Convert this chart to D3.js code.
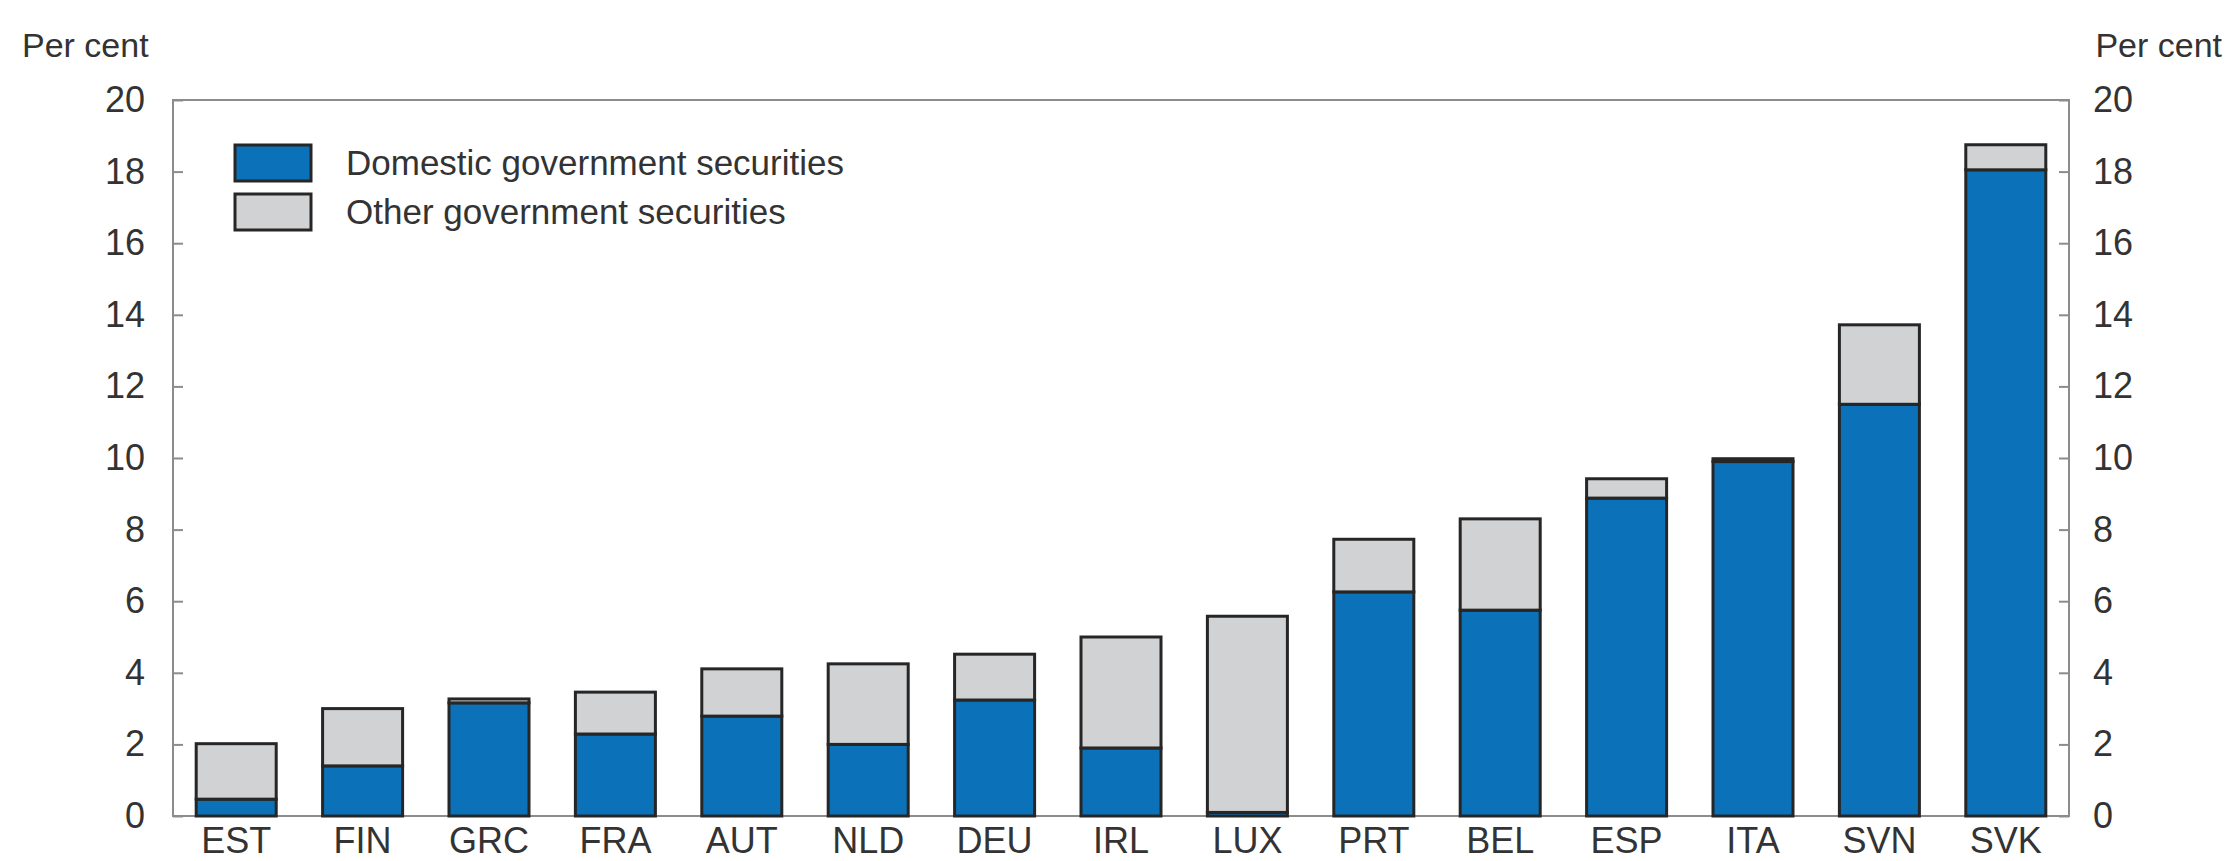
<!DOCTYPE html>
<html>
<head>
<meta charset="utf-8">
<script src="https://cdn.jsdelivr.net/npm/d3@7"></script>
<style>
  body { margin: 0; background: #fff; }
  text { font-family: "Liberation Sans", Arial, sans-serif; fill: #333; }
</style>
</head>
<body>
<div id="chart"></div>
<script>
// country codes along the x axis
var categories = ["EST", "FIN", "GRC", "FRA", "AUT", "NLD", "DEU", "IRL", "LUX", "PRT", "BEL", "ESP", "ITA", "SVN", "SVK"];
// per cent
var domestic = [0.47, 1.4, 3.16, 2.29, 2.79, 2.0, 3.24, 1.9, 0.1, 6.26, 5.75, 8.88, 9.9, 11.5, 18.05];
var other    = [1.55, 1.6, 0.11, 1.17, 1.32, 2.25, 1.28, 3.1, 5.48, 1.47, 2.55, 0.54, 0.08, 2.22, 0.7];
var seriesNames = ["Domestic government securities", "Other government securities"];
var yTicks = [0, 2, 4, 6, 8, 10, 12, 14, 16, 18, 20];

var width = 2228, height = 861;
// plot box (window.top is read only, so no "top" here)
var plotL = 173, plotR = 2069, plotT = 100, plotB = 816;

var blue = "#0b72b9", grey = "#d1d2d4", edge = "#262626";

var table = categories.map(function(c, i) {
    return {cat: c, dom: domestic[i], oth: other[i]};
});

var svg = d3.select("#chart").append("svg")
    .attr("width", width)
    .attr("height", height);

var x = d3.scaleBand()
    .domain(categories)
    .range([plotL, plotR])
    .paddingInner(0.367)
    .paddingOuter(0.1835);

var y = d3.scaleLinear()
    .domain([0, 20])
    .range([plotB, plotT]);

// frame
svg.append("rect")
    .attr("x", plotL)
    .attr("y", y(20))
    .attr("width", plotR - plotL)
    .attr("height", y(0) - y(20))
    .attr("fill", "none")
    .attr("stroke", "#8c8c8c")
    .attr("stroke-width", 2);

// left and right axes, ticks pointing inward
var yl = svg.append("g")
    .attr("transform", "translate(" + plotL + ",0)")
    .call(d3.axisLeft(y).tickValues(yTicks).tickSize(-10).tickPadding(28));
var yr = svg.append("g")
    .attr("transform", "translate(" + plotR + ",0)")
    .call(d3.axisRight(y).tickValues(yTicks).tickSize(-10).tickPadding(24));

[yl, yr].forEach(function(g) {
    g.select(".domain").remove();
    g.selectAll(".tick line").attr("stroke", "#8c8c8c").attr("stroke-width", 2);
    g.selectAll(".tick text")
        .attr("font-family", "Liberation Sans, Arial, sans-serif")
        .attr("font-size", 36)
        .attr("fill", "#333");
});

var stack = d3.stack().keys(["dom", "oth"]);
var layers = stack(table);
var colors = [blue, grey];

svg.append("g").selectAll("g")
    .data(layers)
    .join("g")
    .attr("fill", function(d, i) { return colors[i]; })
    .selectAll("rect")
    .data(function(d) { return d; })
    .join("rect")
    .attr("x", function(d) { return x(d.data.cat); })
    .attr("y", function(d) { return y(d[1]); })
    .attr("width", x.bandwidth())
    .attr("height", function(d) { return y(d[0]) - y(d[1]); })
    .attr("stroke", edge)
    .attr("stroke-width", 3);

// category labels
var xa = svg.append("g")
    .attr("transform", "translate(0," + plotB + ")")
    .call(d3.axisBottom(x).tickSize(0).tickPadding(11));
xa.select(".domain").remove();
xa.selectAll(".tick text")
    .attr("font-family", "Liberation Sans, Arial, sans-serif")
    .attr("font-size", 36)
    .attr("fill", "#333");

// unit labels
svg.append("text")
    .attr("x", 22)
    .attr("y", 57)
    .attr("font-size", 34)
    .text("Per cent");
svg.append("text")
    .attr("x", 2222)
    .attr("y", 57)
    .attr("text-anchor", "end")
    .attr("font-size", 34)
    .text("Per cent");

// legend
var legend = svg.append("g");
seriesNames.forEach(function(name, i) {
    legend.append("rect")
        .attr("x", 235)
        .attr("y", 145 + i * 49)
        .attr("width", 76)
        .attr("height", 36)
        .attr("fill", colors[i])
        .attr("stroke", edge)
        .attr("stroke-width", 3);
    legend.append("text")
        .attr("x", 346)
        .attr("y", 163 + i * 49)
        .attr("dy", "0.35em")
        .attr("font-size", 35)
        .text(name);
});
</script>
</body>
</html>
